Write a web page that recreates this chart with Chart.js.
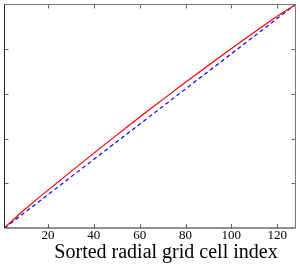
<!DOCTYPE html>
<html>
<head>
<meta charset="utf-8">
<script src="https://cdn.jsdelivr.net/npm/chart.js@4"></script>
<style>
  html, body { margin: 0; padding: 0; background: #fff; }
  #wrap { width: 300px; height: 267px; position: relative; }
</style>
</head>
<body>
<div id="wrap"><canvas id="chart"></canvas></div>
<script>
// cell index positions sampled along the curve
var cellIndex = [1, 8, 16, 24, 32, 40, 48, 56, 64, 72, 80, 88, 96, 104, 112, 120, 128];
// red solid curve (cumulative fraction)
var sortedValues = [0, 0.067, 0.136, 0.203, 0.269, 0.335, 0.400, 0.464, 0.528, 0.590, 0.652, 0.713, 0.773, 0.832, 0.890, 0.947, 1.0];
// blue dashed reference line
var refIndex = [1, 128];
var refValues = [0, 1];
var xTickValues = [20, 40, 60, 80, 100, 120];
var yTickValues = [0.2, 0.4, 0.6, 0.8];
var xTitle = 'Sorted radial grid cell index';

function toPoints(xs, ys) {
    return xs.map(function (x, i) { return { x: x, y: ys[i] }; });
}

// draws the box, inward tick marks on all four sides and the x title
var frameTicks = {
    id: 'frameTicks',
    afterDraw: function (chart) {
        var ctx = chart.ctx, a = chart.chartArea;
        var xs = chart.scales.x, ys = chart.scales.y;
        var len = 4;
        ctx.save();
        ctx.lineWidth = 1;
        ctx.strokeStyle = '#666';
        ctx.beginPath();
        xTickValues.forEach(function (v) {
            var px = Math.round(xs.getPixelForValue(v)) + 0.5;
            ctx.moveTo(px, a.bottom); ctx.lineTo(px, a.bottom - len);
            ctx.moveTo(px, a.top); ctx.lineTo(px, a.top + len);
        });
        yTickValues.forEach(function (v) {
            var py = Math.round(ys.getPixelForValue(v)) + 0.5;
            ctx.moveTo(a.left, py); ctx.lineTo(a.left + len, py);
            ctx.moveTo(a.right, py); ctx.lineTo(a.right - len, py);
        });
        ctx.stroke();
        // top & right edges lighter, left & bottom dark
        ctx.strokeStyle = '#777';
        ctx.beginPath();
        ctx.moveTo(a.left, a.top); ctx.lineTo(a.right, a.top); ctx.lineTo(a.right, a.bottom);
        ctx.stroke();
        ctx.strokeStyle = '#222';
        ctx.beginPath();
        ctx.moveTo(a.left, a.top); ctx.lineTo(a.left, a.bottom); ctx.lineTo(a.right, a.bottom);
        ctx.stroke();

        // axis title, a bit right of centre as in the original
        ctx.fillStyle = '#000';
        ctx.font = '20px "Liberation Serif"';
        ctx.textAlign = 'center';
        ctx.textBaseline = 'alphabetic';
        ctx.fillText(xTitle, 166, 258);
        ctx.restore();
    }
};

var ctx = document.getElementById('chart').getContext('2d');
var chart = new Chart(ctx, {
    type: 'line',
    data: {
        datasets: [{
            data: toPoints(cellIndex, sortedValues),
            borderColor: '#ff0000',
            borderWidth: 1.2,
            pointRadius: 0,
            fill: false
        }, {
            data: toPoints(refIndex, refValues),
            borderColor: '#0000ff',
            borderWidth: 1.2,
            borderDash: [4, 3],
            pointRadius: 0,
            fill: false
        }]
    },
    options: {
        responsive: true,
        maintainAspectRatio: false,
        animation: false,
        layout: { padding: { left: 4.5, right: 4.5, top: 4.5, bottom: 24 } },
        plugins: { legend: { display: false }, tooltip: { enabled: false } },
        scales: {
            x: {
                type: 'linear',
                min: 1,
                max: 128,
                afterBuildTicks: function (s) { s.ticks = xTickValues.map(function (v) { return { value: v }; }); },
                grid: { display: false, drawTicks: false },
                border: { display: false },
                ticks: {
                    maxRotation: 0,
                    padding: 1,
                    color: '#000',
                    font: { family: 'Liberation Serif', size: 13, lineHeight: 1 }
                }
            },
            y: {
                display: false,
                min: 0,
                max: 1,
                afterBuildTicks: function (s) { s.ticks = yTickValues.map(function (v) { return { value: v }; }); }
            }
        }
    },
    plugins: [frameTicks]
});
</script>
</body>
</html>
